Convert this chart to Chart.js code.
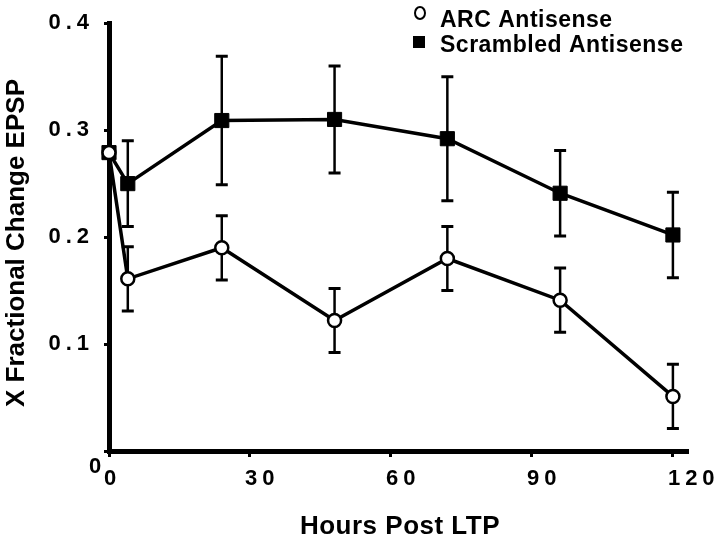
<!DOCTYPE html>
<html>
<head>
<meta charset="utf-8">
<script src="https://cdn.jsdelivr.net/npm/chart.js@4.4.1/dist/chart.umd.min.js"></script>
<style>
    html, body { margin: 0; padding: 0; background: #fff; }
    #wrap { width: 720px; height: 541px; }
</style>
</head>
<body>
<div id="wrap"><canvas id="epspChart" width="720" height="541"></canvas></div>
<script>
// Data
const hours = [0, 4, 24, 48, 72, 96, 120];
const arcMean = [0.279, 0.161, 0.190, 0.122, 0.180, 0.141, 0.051];
const arcErr = [null, 0.030, 0.030, 0.030, 0.030, 0.030, 0.030];
const scrMean = [0.279, 0.250, 0.309, 0.310, 0.292, 0.241, 0.202];
const scrErr = [null, 0.040, 0.060, 0.050, 0.058, 0.040, 0.040];
const seriesNames = ['ARC Antisense', 'Scrambled Antisense'];

const xTicks = [0, 30, 60, 90, 120];
const xTickLabels = ['0', '30', '60', '90', '120'];
const yTicks = [0, 0.1, 0.2, 0.3, 0.4];
const yTickLabels = ['0', '0.1', '0.2', '0.3', '0.4'];
const xTitle = 'Hours Post LTP';
const yTitle = 'X Fractional Change EPSP';

const FONT = "'Liberation Sans', Arial, Helvetica, sans-serif";

// letter spacing for tick labels (drawn with the scales), off again for the datasets
const spacing = {
    id: 'spacing',
    beforeDraw(chart) { chart.ctx.letterSpacing = '5px'; },
    beforeDatasetsDraw(chart) { chart.ctx.letterSpacing = '0px'; }
};

// vertical error bars, drawn under the markers
const errorBars = {
    id: 'errorBars',
    beforeDatasetsDraw(chart) {
        const { ctx, scales: { x, y } } = chart;
        const groups = [[arcMean, arcErr], [scrMean, scrErr]];
        ctx.save();
        ctx.strokeStyle = '#000';
        groups.forEach(([means, errs]) => {
            errs.forEach((e, i) => {
                if (e == null) return;
                const px = x.getPixelForValue(hours[i]);
                const top = y.getPixelForValue(means[i] + e);
                const bot = y.getPixelForValue(means[i] - e);
                ctx.lineWidth = 2.5;
                ctx.beginPath();
                ctx.moveTo(px, top);
                ctx.lineTo(px, bot);
                ctx.stroke();
                ctx.lineWidth = 3;
                ctx.beginPath();
                ctx.moveTo(px - 6, top);
                ctx.lineTo(px + 6, top);
                ctx.moveTo(px - 6, bot);
                ctx.lineTo(px + 6, bot);
                ctx.stroke();
            });
        });
        ctx.restore();
    }
};

// axis titles, the odd "0" at the origin and the legend
const annotations = {
    id: 'annotations',
    afterDraw(chart) {
        const { ctx, scales: { x, y } } = chart;
        ctx.save();
        ctx.fillStyle = '#000';

        // y origin label sits below-left of the corner
        ctx.letterSpacing = '0px';
        ctx.font = `bold 22px ${FONT}`;
        ctx.textAlign = 'center';
        ctx.textBaseline = 'middle';
        ctx.fillText(yTickLabels[0], x.getPixelForValue(0) - 14, y.getPixelForValue(0) + 16);

        // x title
        ctx.letterSpacing = '0.5px';
        ctx.font = `bold 26px ${FONT}`;
        ctx.fillText(xTitle, 400, 527);

        // y title
        ctx.letterSpacing = '0px';
        ctx.save();
        ctx.translate(17, 243);
        ctx.rotate(-Math.PI / 2);
        ctx.fillText(yTitle, 0, 0);
        ctx.restore();

        // legend
        ctx.letterSpacing = '0.5px';
        ctx.font = `bold 23px ${FONT}`;
        ctx.textAlign = 'left';
        ctx.textBaseline = 'alphabetic';
        ctx.lineWidth = 2;
        ctx.strokeStyle = '#000';
        ctx.beginPath();
        ctx.ellipse(420, 13, 5, 6, 0, 0, Math.PI * 2);
        ctx.stroke();
        ctx.fillText(seriesNames[0], 440, 27);
        ctx.fillRect(413, 36, 12, 12);
        ctx.fillText(seriesNames[1], 440, 52);
        ctx.restore();
    }
};

const ctx = document.getElementById('epspChart').getContext('2d');
new Chart(ctx, {
    type: 'scatter',
    data: {
        datasets: [
            {
                label: seriesNames[0],
                data: hours.map((h, i) => ({ x: h, y: arcMean[i] })),
                showLine: true,
                borderColor: '#000',
                borderWidth: 3.5,
                pointStyle: 'circle',
                pointRadius: 6.5,
                pointBorderWidth: 2.5,
                pointBackgroundColor: '#fff',
                pointBorderColor: '#000',
                clip: false
            },
            {
                label: seriesNames[1],
                data: hours.map((h, i) => ({ x: h, y: scrMean[i] })),
                showLine: true,
                borderColor: '#000',
                borderWidth: 3.5,
                pointStyle: 'rect',
                pointRadius: 10,
                pointBorderWidth: 1,
                pointBackgroundColor: '#000',
                pointBorderColor: '#000',
                clip: false
            }
        ]
    },
    options: {
        responsive: false,
        animation: false,
        devicePixelRatio: 1,
        layout: { padding: { top: 21, right: 33, left: 0, bottom: 0 } },
        plugins: {
            legend: { display: false },
            tooltip: { enabled: false }
        },
        scales: {
            x: {
                type: 'linear',
                min: 0,
                max: 123,
                afterFit: (s) => { s.height = 90; },
                afterBuildTicks: (s) => { s.ticks = xTicks.map(v => ({ value: v })); },
                border: { color: '#000', width: 5 },
                grid: { drawOnChartArea: false, drawTicks: true, tickLength: 6, color: '#000', lineWidth: 3 },
                ticks: {
                    align: 'start',
                    labelOffset: -5,
                    padding: 9,
                    color: '#000',
                    font: { family: FONT, size: 22, weight: 'bold' },
                    callback: (v) => xTickLabels[xTicks.indexOf(v)]
                }
            },
            y: {
                type: 'linear',
                min: 0,
                max: 0.4,
                afterFit: (s) => { s.width = 109; },
                afterBuildTicks: (s) => { s.ticks = yTicks.map(v => ({ value: v })); },
                border: { color: '#000', width: 5 },
                grid: { drawOnChartArea: false, drawTicks: true, tickLength: 5, color: '#000', lineWidth: 3 },
                ticks: {
                    padding: 10,
                    color: '#000',
                    font: { family: FONT, size: 22, weight: 'bold' },
                    // the origin "0" is drawn separately, below the corner
                    callback: (v) => v === 0 ? '' : yTickLabels[yTicks.indexOf(v)]
                }
            }
        }
    },
    plugins: [spacing, errorBars, annotations]
});
</script>
</body>
</html>
